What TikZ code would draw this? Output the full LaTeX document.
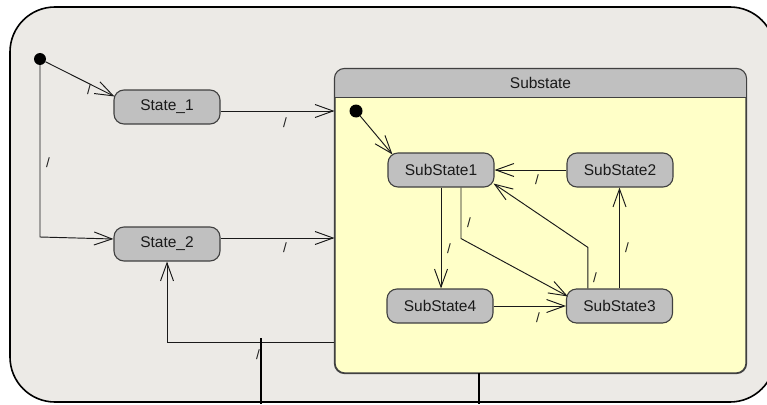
\documentclass[tikz,border=0pt]{standalone}
\usepackage{fontspec}
\setmainfont{Liberation Sans}
\usetikzlibrary{arrows.meta,calc}
\definecolor{canvas}{HTML}{ECEAE6}
\definecolor{paper}{HTML}{FFFFC8}
\definecolor{statefill}{HTML}{C0C0C0}
\definecolor{edge}{HTML}{404040}
\definecolor{ink}{HTML}{1A1A1A}
\begin{document}
\begin{tikzpicture}[x=1pt,y=-1pt,
  font=\fontsize{15.5}{18}\selectfont,
  state/.style={draw=edge, line width=1.1pt, fill=statefill, rounded corners=10pt,
    minimum width=106pt, minimum height=34pt, inner sep=0pt, text=ink},
  initial/.style={circle, fill=black, minimum size=12pt, inner sep=0pt},
  trans/.style={draw=ink, line width=0.95pt, -{Straight Barb[length=18pt,width=13pt]}},
  lbl/.style={inner sep=0pt, text=ink, font=\fontsize{13.5}{15}\selectfont},
  bar/.style={draw=black, line width=2pt}
]
\useasboundingbox (0,0) rectangle (767,404);
\clip (0,0) rectangle (767,404);
\fill[white] (0,0) rectangle (767,404);

% outer region
\draw[line width=1.6pt, fill=canvas, rounded corners=45pt] (10,7) rectangle (775,402);

% composite state "Substate"
\node[draw=edge, line width=1.1pt, fill=paper, rounded corners=10pt,
  minimum width=411pt, minimum height=304pt, inner sep=0pt] (sub) at (540.5,221) {};
\begin{scope}
  \clip[rounded corners=10pt] (sub.north west) rectangle (sub.south east);
  \fill[statefill] (sub.north west) rectangle ($(sub.north east)+(0,29)$);
\end{scope}
\draw[edge, line width=1.1pt] ($(sub.north west)+(0,29)$) -- ($(sub.north east)+(0,29)$);
\draw[edge, line width=1.1pt, rounded corners=10pt] (sub.north west) rectangle (sub.south east);
\node[text=ink] (subtitle) at ($(sub.north)+(0,15)$) {Substate};

% states
\node[initial] (init) at (40,59) {};
\node[state] (s1) at (167,107) {State\_1};
\node[state] (s2) at (167,244) {State\_2};
\node[initial, minimum size=13pt] (subinit) at (356,111) {};
\node[state] (ss1) at (441,170) {SubState1};
\node[state] (ss2) at (620,170) {SubState2};
\node[state] (ss4) at (440,306) {SubState4};
\node[state] (ss3) at (619.5,306) {SubState3};

% helper points
\coordinate (s1in) at ($(s1.north west)+(1,7)$);
\coordinate (drop) at (40,237);
\coordinate (s2in) at ($(s2.west)+(0,-5)$);
\coordinate (s1out) at ($(s1.east)+(0,4)$);
\coordinate (s2out) at ($(s2.east)+(0,-6)$);
\coordinate (back) at ($(sub.south west)+(0,-31)$);
\coordinate (barA) at (261,338);
\coordinate (barAend) at (261,404);
\coordinate (barB) at (479,373);
\coordinate (barBend) at (479,404);
\coordinate (ss1in) at ($(ss1.north west)+(5,2)$);
\coordinate (a9) at ($(ss1.south)+(20,0)$);
\coordinate (k9) at ($(a9)+(0,51)$);
\coordinate (ss3in) at ($(ss3.north west)+(2,8)$);
\coordinate (a10) at ($(ss3.north west)+(22,0)$);
\coordinate (k10) at ($(a10)+(0,-41)$);
\coordinate (ss1back) at ($(ss1.south east)+(-1,-4)$);

% outer transitions
\draw[trans] (init) -- (s1in);
\draw[trans] (init) -- (drop) -- (s2in);
\draw[trans] (s1out) -- (s1out -| sub.west);
\draw[trans] (s2out) -- (s2out -| sub.west);
\draw[trans] (back) -| (s2.south);
\draw[bar] (barA) -- (barAend);
\draw[bar] (barB) -- (barBend);

% inner transitions
\draw[trans] (subinit) -- (ss1in);
\draw[trans] (ss2.west) -- (ss1.east);
\draw[trans] (ss1.south) -- (ss1.south |- ss4.north);
\draw[trans] (a9) -- (k9) -- (ss3in);
\draw[trans] (a10) -- (k10) -- (ss1back);
\draw[trans] (ss3.north) -- (ss3.north |- ss2.south);
\draw[trans] (ss4.east) -- (ss3.west);

% transition labels
\node[lbl] (l1) at (89,90) {/};
\node[lbl] (l2) at (48,163) {/};
\node[lbl] (l3) at (285,123) {/};
\node[lbl] (l4) at (285,248) {/};
\node[lbl] (l5) at (258,355) {/};
\node[lbl] (l7) at (537,180) {/};
\node[lbl] (l8) at (449,249) {/};
\node[lbl] (l9) at (469,223) {/};
\node[lbl] (l10) at (595,278) {/};
\node[lbl] (l11) at (627,248) {/};
\node[lbl] (l12) at (538,318) {/};
\end{tikzpicture}
\end{document}
